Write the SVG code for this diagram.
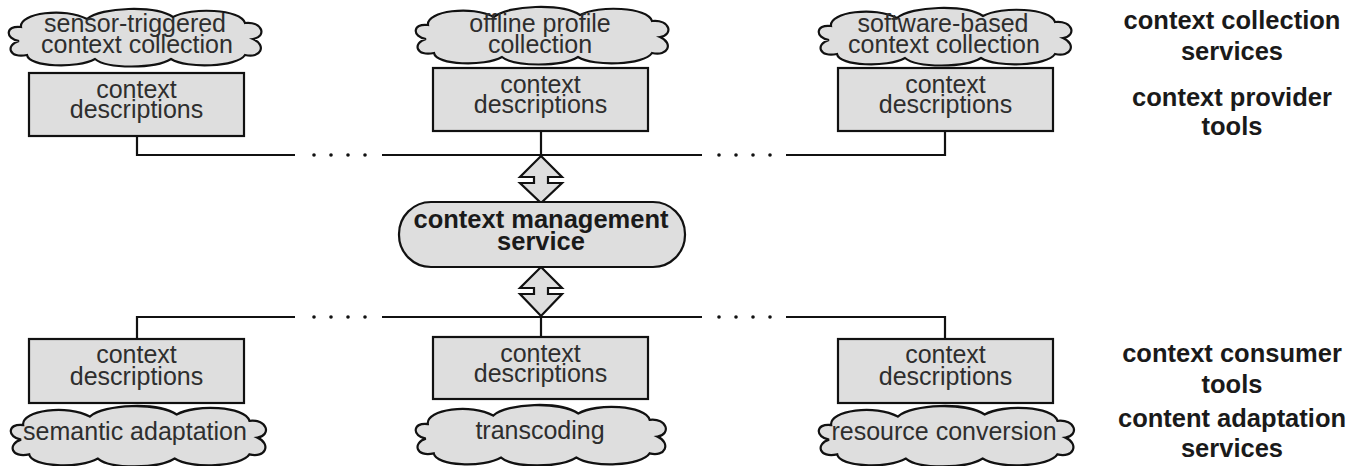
<svg xmlns="http://www.w3.org/2000/svg" xmlns:xlink="http://www.w3.org/1999/xlink" width="1361" height="466" viewBox="0 0 1361 466">
<style>
.shape{fill:#dedede;stroke:#111;stroke-width:2.2}
.bus{fill:none;stroke:#111;stroke-width:2.2}
.dot{fill:#111}
.t{font-family:"Liberation Sans",Arial,sans-serif;font-size:25px;fill:#2e2e2e;text-anchor:middle}
.b{font-family:"Liberation Sans",Arial,sans-serif;font-size:25.5px;font-weight:bold;fill:#1a1a1a;text-anchor:middle}
</style>
<defs>
<path id="cloud" d="M14,34 C0,32 0,18 16,20 C14,6 60,0 82,12 C96,0 150,-2 168,10 C186,0 236,2 240,16 C258,14 262,30 248,32 C262,38 256,52 240,48 C232,60 182,62 166,52 C150,62 102,62 90,52 C72,62 24,60 22,48 C4,52 0,38 14,34 Z"/>
</defs>
<rect width="1361" height="466" fill="#fff"/>
<g id="connectors">
<path class="bus" d="M137,136 V155 H295 M382,155 H702 M786,155 H945 V131 M541,131 V155"/>
<path class="bus" d="M137,339 V317 H295 M382,317 H702 M786,317 H945 V339 M541,317 V337"/>
<g class="dot">
<circle cx="314" cy="155" r="1.8"/><circle cx="331" cy="155" r="1.8"/><circle cx="348" cy="155" r="1.8"/><circle cx="365" cy="155" r="1.8"/>
<circle cx="719" cy="155" r="1.8"/><circle cx="736" cy="155" r="1.8"/><circle cx="753" cy="155" r="1.8"/><circle cx="770" cy="155" r="1.8"/>
<circle cx="314" cy="317" r="1.8"/><circle cx="331" cy="317" r="1.8"/><circle cx="348" cy="317" r="1.8"/><circle cx="365" cy="317" r="1.8"/>
<circle cx="719" cy="317" r="1.8"/><circle cx="736" cy="317" r="1.8"/><circle cx="753" cy="317" r="1.8"/><circle cx="770" cy="317" r="1.8"/>
</g>
<polygon class="shape" points="541,156 562,177 548,177 548,183 562,183 541,203 520,183 534,183 534,177 520,177"/>
<polygon class="shape" points="541,267 562,288 548,288 548,294 562,294 541,316 520,294 534,294 534,288 520,288"/>
</g>
<g id="cloud-sensor">
<use xlink:href="#cloud" class="shape" transform="translate(5,7)"/>
<text class="t" x="135" y="32">sensor-triggered</text>
<text class="t" x="137" y="53">context collection</text>
</g>
<g id="cloud-offline">
<use xlink:href="#cloud" class="shape" transform="translate(412,5)"/>
<text class="t" x="540" y="32">offline profile</text>
<text class="t" x="540" y="53">collection</text>
</g>
<g id="cloud-software">
<use xlink:href="#cloud" class="shape" transform="translate(815,6)"/>
<text class="t" x="943" y="32">software-based</text>
<text class="t" x="944" y="53">context collection</text>
</g>
<g id="box-top-1">
<rect class="shape" x="29" y="73" width="215" height="63"/>
<text class="t" x="136.5" y="98">context</text>
<text class="t" x="136.5" y="118">descriptions</text>
</g>
<g id="box-top-2">
<rect class="shape" x="433" y="68" width="215" height="63"/>
<text class="t" x="540.5" y="93">context</text>
<text class="t" x="540.5" y="113">descriptions</text>
</g>
<g id="box-top-3">
<rect class="shape" x="838" y="68" width="215" height="63"/>
<text class="t" x="945.5" y="93">context</text>
<text class="t" x="945.5" y="113">descriptions</text>
</g>
<g id="management">
<rect class="shape" x="399" y="202" width="286" height="65" rx="32" ry="32"/>
<text class="b" x="541" y="228">context management</text>
<text class="b" x="541" y="250">service</text>
</g>
<g id="box-bottom-1">
<rect class="shape" x="29" y="339" width="215" height="64"/>
<text class="t" x="136.5" y="363">context</text>
<text class="t" x="136.5" y="385">descriptions</text>
</g>
<g id="box-bottom-2">
<rect class="shape" x="433" y="337" width="215" height="62"/>
<text class="t" x="540.5" y="362">context</text>
<text class="t" x="540.5" y="382">descriptions</text>
</g>
<g id="box-bottom-3">
<rect class="shape" x="838" y="339" width="215" height="64"/>
<text class="t" x="945.5" y="363">context</text>
<text class="t" x="945.5" y="385">descriptions</text>
</g>
<g id="cloud-semantic">
<use xlink:href="#cloud" class="shape" transform="translate(7,404) scale(1.01,1.05)"/>
<text class="t" x="135" y="440">semantic adaptation</text>
</g>
<g id="cloud-transcoding">
<use xlink:href="#cloud" class="shape" transform="translate(412,403) scale(0.99,1.05)"/>
<text class="t" x="540" y="439">transcoding</text>
</g>
<g id="cloud-resource">
<use xlink:href="#cloud" class="shape" transform="translate(815,404) scale(1.01,1.05)"/>
<text class="t" x="944" y="440">resource conversion</text>
</g>
<g id="layer-labels">
<text class="b" x="1232" y="29">context collection</text>
<text class="b" x="1232" y="60">services</text>
<text class="b" x="1232" y="106">context provider</text>
<text class="b" x="1232" y="135">tools</text>
<text class="b" x="1232" y="362">context consumer</text>
<text class="b" x="1232" y="393">tools</text>
<text class="b" x="1232" y="427">content adaptation</text>
<text class="b" x="1232" y="457">services</text>
</g>
</svg>
